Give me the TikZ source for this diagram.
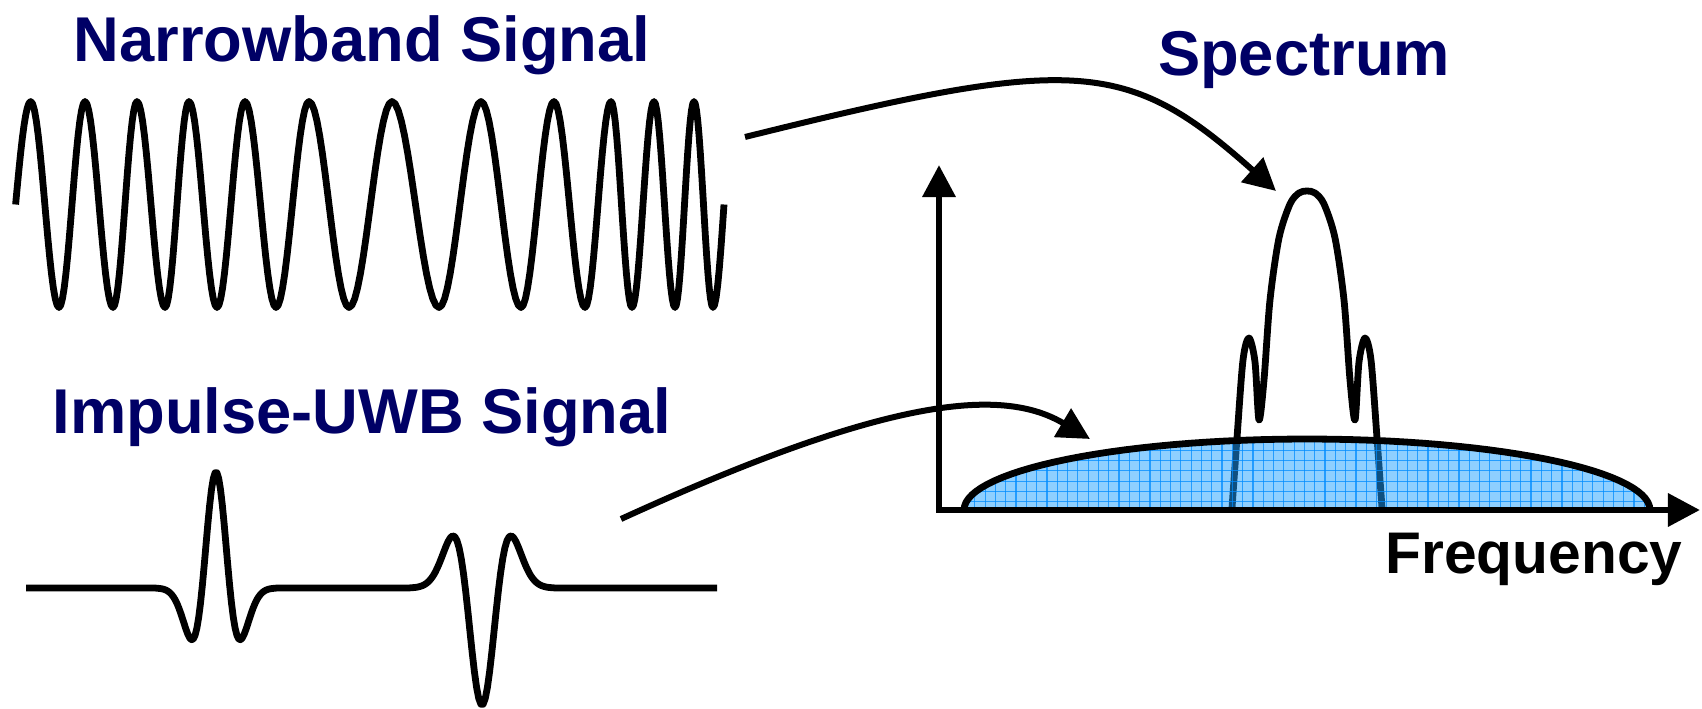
\documentclass[tikz,border=0pt]{standalone}
\usepackage{fontspec}
\setmainfont{Liberation Sans}
\definecolor{uwbnavy}{RGB}{0,0,102}
\definecolor{uwbblue}{RGB}{30,160,255}
\definecolor{uwbgrid}{RGB}{0,140,255}
\usetikzlibrary{arrows.meta}

\begin{document}
\begin{tikzpicture}[x=0.01cm, y=-0.01cm,
  wave/.style={line width=0.068cm, line join=round},
  link/.style={line width=0.06cm, -{Triangle[length=0.32cm, width=0.32cm]}},
  axisline/.style={line width=0.065cm, {Triangle[length=0.32cm, width=0.32cm]}-{Triangle[length=0.32cm, width=0.32cm]}},
  gridline/.style={uwbgrid, line width=0.012cm, opacity=0.75},
  title/.style={font=\fontsize{18}{20}\selectfont\bfseries, text=uwbnavy, inner sep=0pt, anchor=base},
  axislabel/.style={font=\fontsize{16.7}{19}\selectfont\bfseries, text=black, inner sep=0pt, anchor=base}]
  \useasboundingbox (0,0) rectangle (1702,709);
  % Titles
  \node[title] (nbtitle) at (362,61) {Narrowband Signal};
  \node[title] (uwbtitle) at (362,433) {Impulse-UWB Signal};
  \node[title] (spectitle) at (1304,75) {Spectrum};
  \node[axislabel] (freqlabel) at (1534,573) {Frequency};
  % Narrowband signal
  \draw[wave] plot[domain=90:180, samples=10] ({15.6+15.1*(\x-90)/90},{204.5+103*cos(\x)})
    \foreach \xb [remember=\xb as \xa (initially 30.7), count=\i] in {59,85,113,137,165,189,217,245,276,309,349,392,439,481,521,554,585,611,632,654,675,694,713}
    { -- plot[domain=0:180, samples=16] ({\xa+(\xb-\xa)*\x/180},{204.5-(2*isodd(\i)-1)*103*cos(\x)}) }
    -- plot[domain=0:90, samples=8] ({713+11*\x/90},{204.5+103*cos(\x)});
  % Impulse-UWB signal
  \draw[wave] (26,588) -- (153.4,588)
    -- plot[domain=-4.5:4.5, samples=70] ({216+13.9*\x},{588-116*(1-(\x)*(\x))*exp(-(\x)*(\x)/2)})
    -- plot[domain=-4.5:4.5, samples=70] ({482+16.7*\x},{588+117*(1-(\x)*(\x))*exp(-(\x)*(\x)/2)})
    -- (717,588);
  % Narrowband spectrum
  \draw[wave] plot[smooth, tension=0.5] coordinates {(1232,508) (1237,438) (1243,360) (1249,338) (1255,362) (1259,420) (1264,380) (1270,300) (1279,238) (1290,204) (1299,193) (1307,191) (1315,193) (1324,204) (1335,238) (1344,300) (1350,380) (1355,420) (1359,362) (1365,338) (1371,360) (1377,438) (1382,508)};
  % UWB spectrum
  \fill[uwbblue, fill opacity=0.5] (964,510) -- plot[domain=180:360, samples=60] ({1307+343*cos(\x)},{510+71*sin(\x)}) -- cycle;
  \begin{scope}
    \clip (964,510) -- plot[domain=180:360, samples=60] ({1307+343*cos(\x)},{510+71*sin(\x)}) -- cycle;
    \foreach \gx in {964.5,974.8,...,1655} \draw[gridline] (\gx,430) -- (\gx,512);
    \foreach \gy in {429.6,439.9,...,512} \draw[gridline] (960,\gy) -- (1655,\gy);
  \end{scope}
  \draw[wave] plot[domain=180:360, samples=60] ({1307+343*cos(\x)},{510+71*sin(\x)});
  % Axes
  \coordinate (origin) at (939,510);
  \coordinate (atip) at (939,165);
  \coordinate (ftip) at (1700,510);
  \draw[axisline] (atip) |- (ftip);
  % Arrows from signals to spectra
  \coordinate (nbtail) at (745,137);
  \coordinate (nbpeak) at (1276,191);
  \coordinate (uwbtail) at (621,519);
  \coordinate (uwbhump) at (1090,439);
  \draw[link] (nbtail) .. controls (1075,55) and (1127,58) .. (nbpeak);
  \draw[link] (uwbtail) .. controls (894,394) and (1004,388) .. (uwbhump);
\end{tikzpicture}
\end{document}
